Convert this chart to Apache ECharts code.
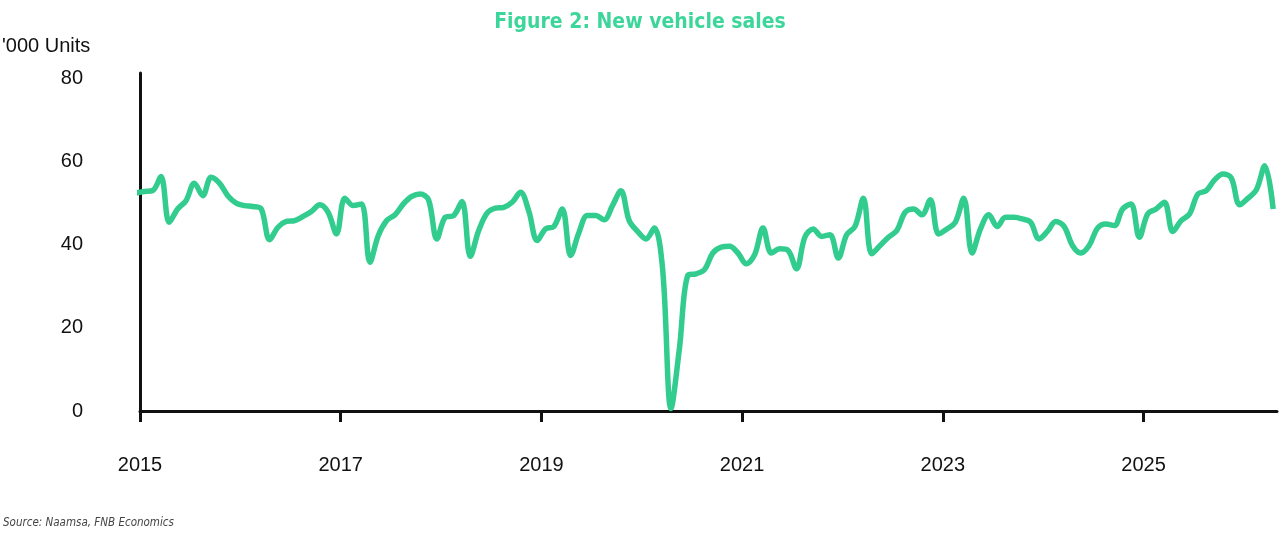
<!DOCTYPE html>
<html>
<head>
<meta charset="utf-8">
<title>Figure 2: New vehicle sales</title>
<script src="https://cdn.jsdelivr.net/npm/echarts@6/dist/echarts.min.js"></script>
<style>
  html, body { margin: 0; padding: 0; background: #fff; }
  #main { width: 1280px; height: 536px; }
</style>
</head>
<body>
<div id="main"></div>
<script type="text/javascript">
// monthly new vehicle sales, '000 units
var sales2014 = [52.4]; // Dec 2014 only, clipped at the axis
var sales2015 = [52.8, 53.0, 56.4, 45.4, 48.6, 50.6, 54.8, 51.8, 56.2, 54.8, 51.8, 50.0];
var sales2016 = [49.4, 49.2, 48.6, 41.2, 44.2, 45.6, 45.8, 46.8, 48.0, 49.6, 47.8, 42.6];
var sales2017 = [51.2, 49.4, 49.8, 35.8, 42.2, 45.8, 47.2, 49.8, 51.6, 52.2, 50.8, 41.4];
var sales2018 = [46.6, 47.0, 50.4, 37.2, 43.4, 47.6, 48.8, 49.0, 50.2, 52.6, 48.0, 41.0];
var sales2019 = [43.8, 44.4, 48.6, 37.4, 43.0, 47.0, 47.0, 46.0, 49.4, 53.0, 45.8, 43.2];
var sales2020 = [41.4, 44.0, 34.0, 0.6, 15.0, 32.6, 33.0, 34.0, 38.0, 39.4, 39.6, 38.0];
var sales2021 = [35.4, 37.6, 44.0, 38.0, 39.0, 38.6, 34.2, 41.8, 43.8, 42.0, 42.4, 36.8];
var sales2022 = [42.4, 44.4, 51.2, 37.8, 39.8, 41.8, 43.4, 47.8, 48.6, 47.2, 50.8, 42.6];
var sales2023 = [43.8, 45.4, 51.2, 38.0, 43.8, 47.2, 44.4, 46.6, 46.6, 46.2, 45.4, 41.4];
var sales2024 = [43.2, 45.6, 44.4, 39.8, 38.0, 39.8, 44.0, 45.0, 44.6, 48.6, 49.8, 41.8];
var sales2025 = [47.4, 48.6, 50.2, 43.2, 45.8, 47.4, 52.2, 53.0, 55.6, 57.0, 56.0, 49.6];
var sales2026 = [51.2, 53.2, 59.0, 48.6];

var years = [2014, 2015, 2016, 2017, 2018, 2019, 2020, 2021, 2022, 2023, 2024, 2025, 2026];
var yearSales = [sales2014, sales2015, sales2016, sales2017, sales2018, sales2019, sales2020,
                 sales2021, sales2022, sales2023, sales2024, sales2025, sales2026];
var firstMonth = [12, 1, 1, 1, 1, 1, 1, 1, 1, 1, 1, 1, 1];

var xTicks = [2015, 2017, 2019, 2021, 2023, 2025];
var yTicks = [0, 20, 40, 60, 80];

// each month sits at the middle of its month on a decimal-year axis
var seriesData = [];
years.forEach(function (y, k) {
    yearSales[k].forEach(function (v, j) {
        var m = firstMonth[k] + j;
        seriesData.push([y + (m - 0.5) / 12, v]);
    });
});

var myChart = echarts.init(document.getElementById('main'));
var axisFont = 'Liberation Sans, Arial, sans-serif';
var option = {
    backgroundColor: '#fff',
    animation: false,
    title: {
        text: 'Figure 2: New vehicle sales',
        left: 'center',
        top: 7,
        textStyle: {
            color: '#3dd69a',
            fontSize: 21,
            fontWeight: 'bold',
            fontFamily: 'Liberation Sans Narrow, DejaVu Sans Condensed, sans-serif'
        }
    },
    graphic: [
        {
            type: 'text',
            left: 2,
            top: 36,
            style: { text: "'000 Units", fill: '#111', font: '20px ' + axisFont }
        },
        {
            type: 'text',
            left: 3,
            top: 517,
            style: {
                text: 'Source: Naamsa, FNB Economics',
                fill: '#444',
                font: 'italic 11.5px Liberation Sans Narrow, DejaVu Sans Condensed, sans-serif'
            }
        }
    ],
    grid: { left: 140, right: 3, top: 73, bottom: 125 },
    xAxis: {
        type: 'value',
        min: 2015,
        max: 2026.33,
        interval: 1,
        splitLine: { show: false },
        axisLine: { lineStyle: { color: '#111', width: 3 } },
        axisTick: {
            show: true,
            length: 11,
            customValues: xTicks,
            lineStyle: { color: '#111', width: 3 }
        },
        axisLabel: {
            customValues: xTicks,
            formatter: function (v) { return String(v); },
            margin: 44,
            color: '#111',
            fontSize: 20,
            fontFamily: axisFont
        }
    },
    yAxis: {
        type: 'value',
        min: 0,
        max: 81.3,
        interval: 20,
        splitLine: { show: false },
        axisLine: { show: true, lineStyle: { color: '#111', width: 3 } },
        axisTick: { show: false },
        axisLabel: {
            customValues: yTicks,
            margin: 57,
            color: '#111',
            fontSize: 20,
            fontFamily: axisFont
        }
    },
    series: [
        {
            name: 'New vehicle sales',
            type: 'line',
            data: seriesData,
            smooth: 0.35,
            showSymbol: false,
            clip: true,
            lineStyle: { color: '#33cc8f', width: 5.5 },
            z: 1
        }
    ]
};
myChart.setOption(option);
</script>
</body>
</html>
